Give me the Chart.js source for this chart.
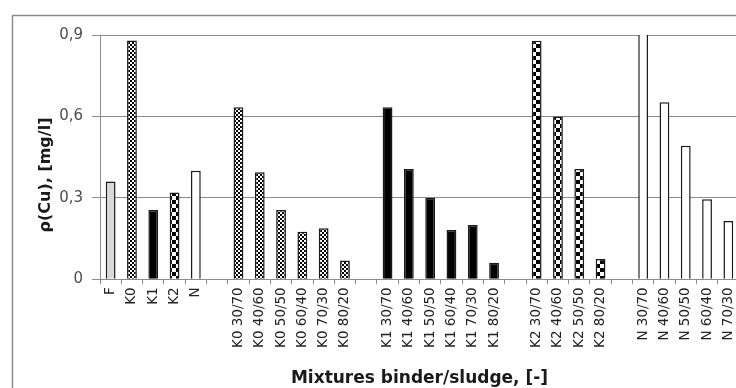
<!DOCTYPE html>
<html>
<head>
<meta charset="utf-8">
<script src="https://cdn.jsdelivr.net/npm/chart.js@4/dist/chart.umd.min.js"></script>
<style>
  html, body { margin: 0; padding: 0; background: #fff; overflow: hidden; }
  #wrap { position: absolute; left: 0; top: 0; width: 760px; height: 410px; }
</style>
</head>
<body>
<div id="wrap"><canvas id="c" width="760" height="410"></canvas></div>
<script>
// Copper concentration in leachate, mg/l
const baseLabels = ['F', 'K0', 'K1', 'K2', 'N'];
const baseValues = [0.36, 0.88, 0.255, 0.32, 0.40];

const k0Labels = ['K0 30/70', 'K0 40/60', 'K0 50/50', 'K0 60/40', 'K0 70/30', 'K0 80/20'];
const k0Values = [0.634, 0.394, 0.255, 0.175, 0.188, 0.069];

const k1Labels = ['K1 30/70', 'K1 40/60', 'K1 50/50', 'K1 60/40', 'K1 70/30', 'K1 80/20'];
const k1Values = [0.634, 0.406, 0.30, 0.182, 0.20, 0.061];

const k2Labels = ['K2 30/70', 'K2 40/60', 'K2 50/50', 'K2 80/20'];
const k2Values = [0.879, 0.60, 0.406, 0.075];

const nLabels = ['N 30/70', 'N 40/60', 'N 50/50', 'N 60/40', 'N 70/30'];
const nValues = [1.05, 0.652, 0.492, 0.295, 0.215];

const yTicks = [0, 0.3, 0.6, 0.9];

const binders = ['F', 'K0', 'K1', 'K2', 'N'];

// Build the category axis: reference binders, then one block per mixture series, empty slot between blocks
const labels = [];
const binderOf = [];
const values = [];
function addBlock(lbls, vals, binderFn) {
  if (labels.length) { labels.push(''); binderOf.push(null); values.push(null); }
  lbls.forEach((l, i) => { labels.push(l); binderOf.push(binderFn(i)); values.push(vals[i]); });
}
addBlock(baseLabels, baseValues, i => binders[i]);
addBlock(k0Labels, k0Values, () => 'K0');
addBlock(k1Labels, k1Values, () => 'K1');
addBlock(k2Labels, k2Values, () => 'K2');
addBlock(nLabels, nValues, () => 'N');

function checker(cell) {
  const c = document.createElement('canvas');
  c.width = c.height = cell * 2;
  const g = c.getContext('2d');
  g.fillStyle = '#000';
  g.fillRect(0, 0, cell * 2, cell * 2);
  g.fillStyle = '#fff';
  g.fillRect(0, 0, cell, cell);
  g.fillRect(cell, cell, cell, cell);
  return g.createPattern(c, 'repeat');
}

const ctx = document.getElementById('c').getContext('2d');
const fills = {
  F: '#d9d9d9',
  K0: checker(2),
  K1: '#000000',
  K2: checker(4),
  N: '#ffffff'
};

const datasets = binders.map(b => ({
  label: b,
  data: values.map((v, i) => binderOf[i] === b ? v : null),
  backgroundColor: fills[b],
  borderColor: '#1a1a1a',
  borderWidth: 1.5,
  grouped: false,
  categoryPercentage: 1,
  barPercentage: 0.46,
  clip: 0
}));

const gridGray = '#8c8c8c';

const framePlugin = {
  id: 'frame',
  beforeDraw(chart) {
    const g = chart.ctx;
    g.save();
    g.fillStyle = '#fff';
    g.fillRect(0, 0, chart.width, chart.height);
    g.strokeStyle = '#8a8a8a';
    g.lineWidth = 1.5;
    g.beginPath();
    g.moveTo(12.5, chart.height);
    g.lineTo(12.5, 15.5);
    g.lineTo(chart.width, 15.5);
    g.stroke();
    g.restore();
  },
  afterDraw(chart) {
    const g = chart.ctx;
    g.save();
    g.translate(46, 175);
    g.rotate(-Math.PI / 2);
    g.fillStyle = '#1a1a1a';
    g.font = 'bold 16px "DejaVu Sans"';
    g.textAlign = 'center';
    g.textBaseline = 'middle';
    g.fillText('ρ(Cu), [mg/l]', 0, 0);
    g.restore();
  }
};

new Chart(ctx, {
  type: 'bar',
  data: { labels, datasets },
  plugins: [framePlugin],
  options: {
    responsive: false,
    animation: false,
    devicePixelRatio: 1,
    layout: { padding: { left: 0, top: 35, right: 21, bottom: 0 } },
    plugins: { legend: { display: false }, tooltip: { enabled: false } },
    scales: {
      x: {
        type: 'category',
        offset: true,
        grid: { display: true, drawOnChartArea: false, drawTicks: true, tickLength: 5, offset: true, color: gridGray },
        border: { display: true, color: gridGray },
        ticks: {
          autoSkip: false, minRotation: 90, maxRotation: 90, padding: 3,
          color: '#222', font: { family: 'DejaVu Sans', size: 13.5 }
        },
        title: {
          display: true, text: 'Mixtures binder/sludge, [-]',
          color: '#1a1a1a', font: { family: 'DejaVu Sans', size: 17, weight: '600' },
          padding: { top: 4, bottom: 21 }
        },
        afterFit(s) { s.height = 130.7; }
      },
      y: {
        min: 0, max: 0.9,
        afterBuildTicks(s) { s.ticks = yTicks.map(v => ({ value: v })); },
        grid: { color: gridGray, tickLength: 8 },
        border: { display: true, color: gridGray },
        ticks: {
          padding: 9, color: '#4d4d4d', font: { family: 'DejaVu Sans', size: 15 },
          callback: v => v === 0 ? '0' : v.toFixed(1).replace('.', ',')
        },
        afterFit(s) { s.width = 100; }
      }
    }
  }
});
</script>
</body>
</html>
